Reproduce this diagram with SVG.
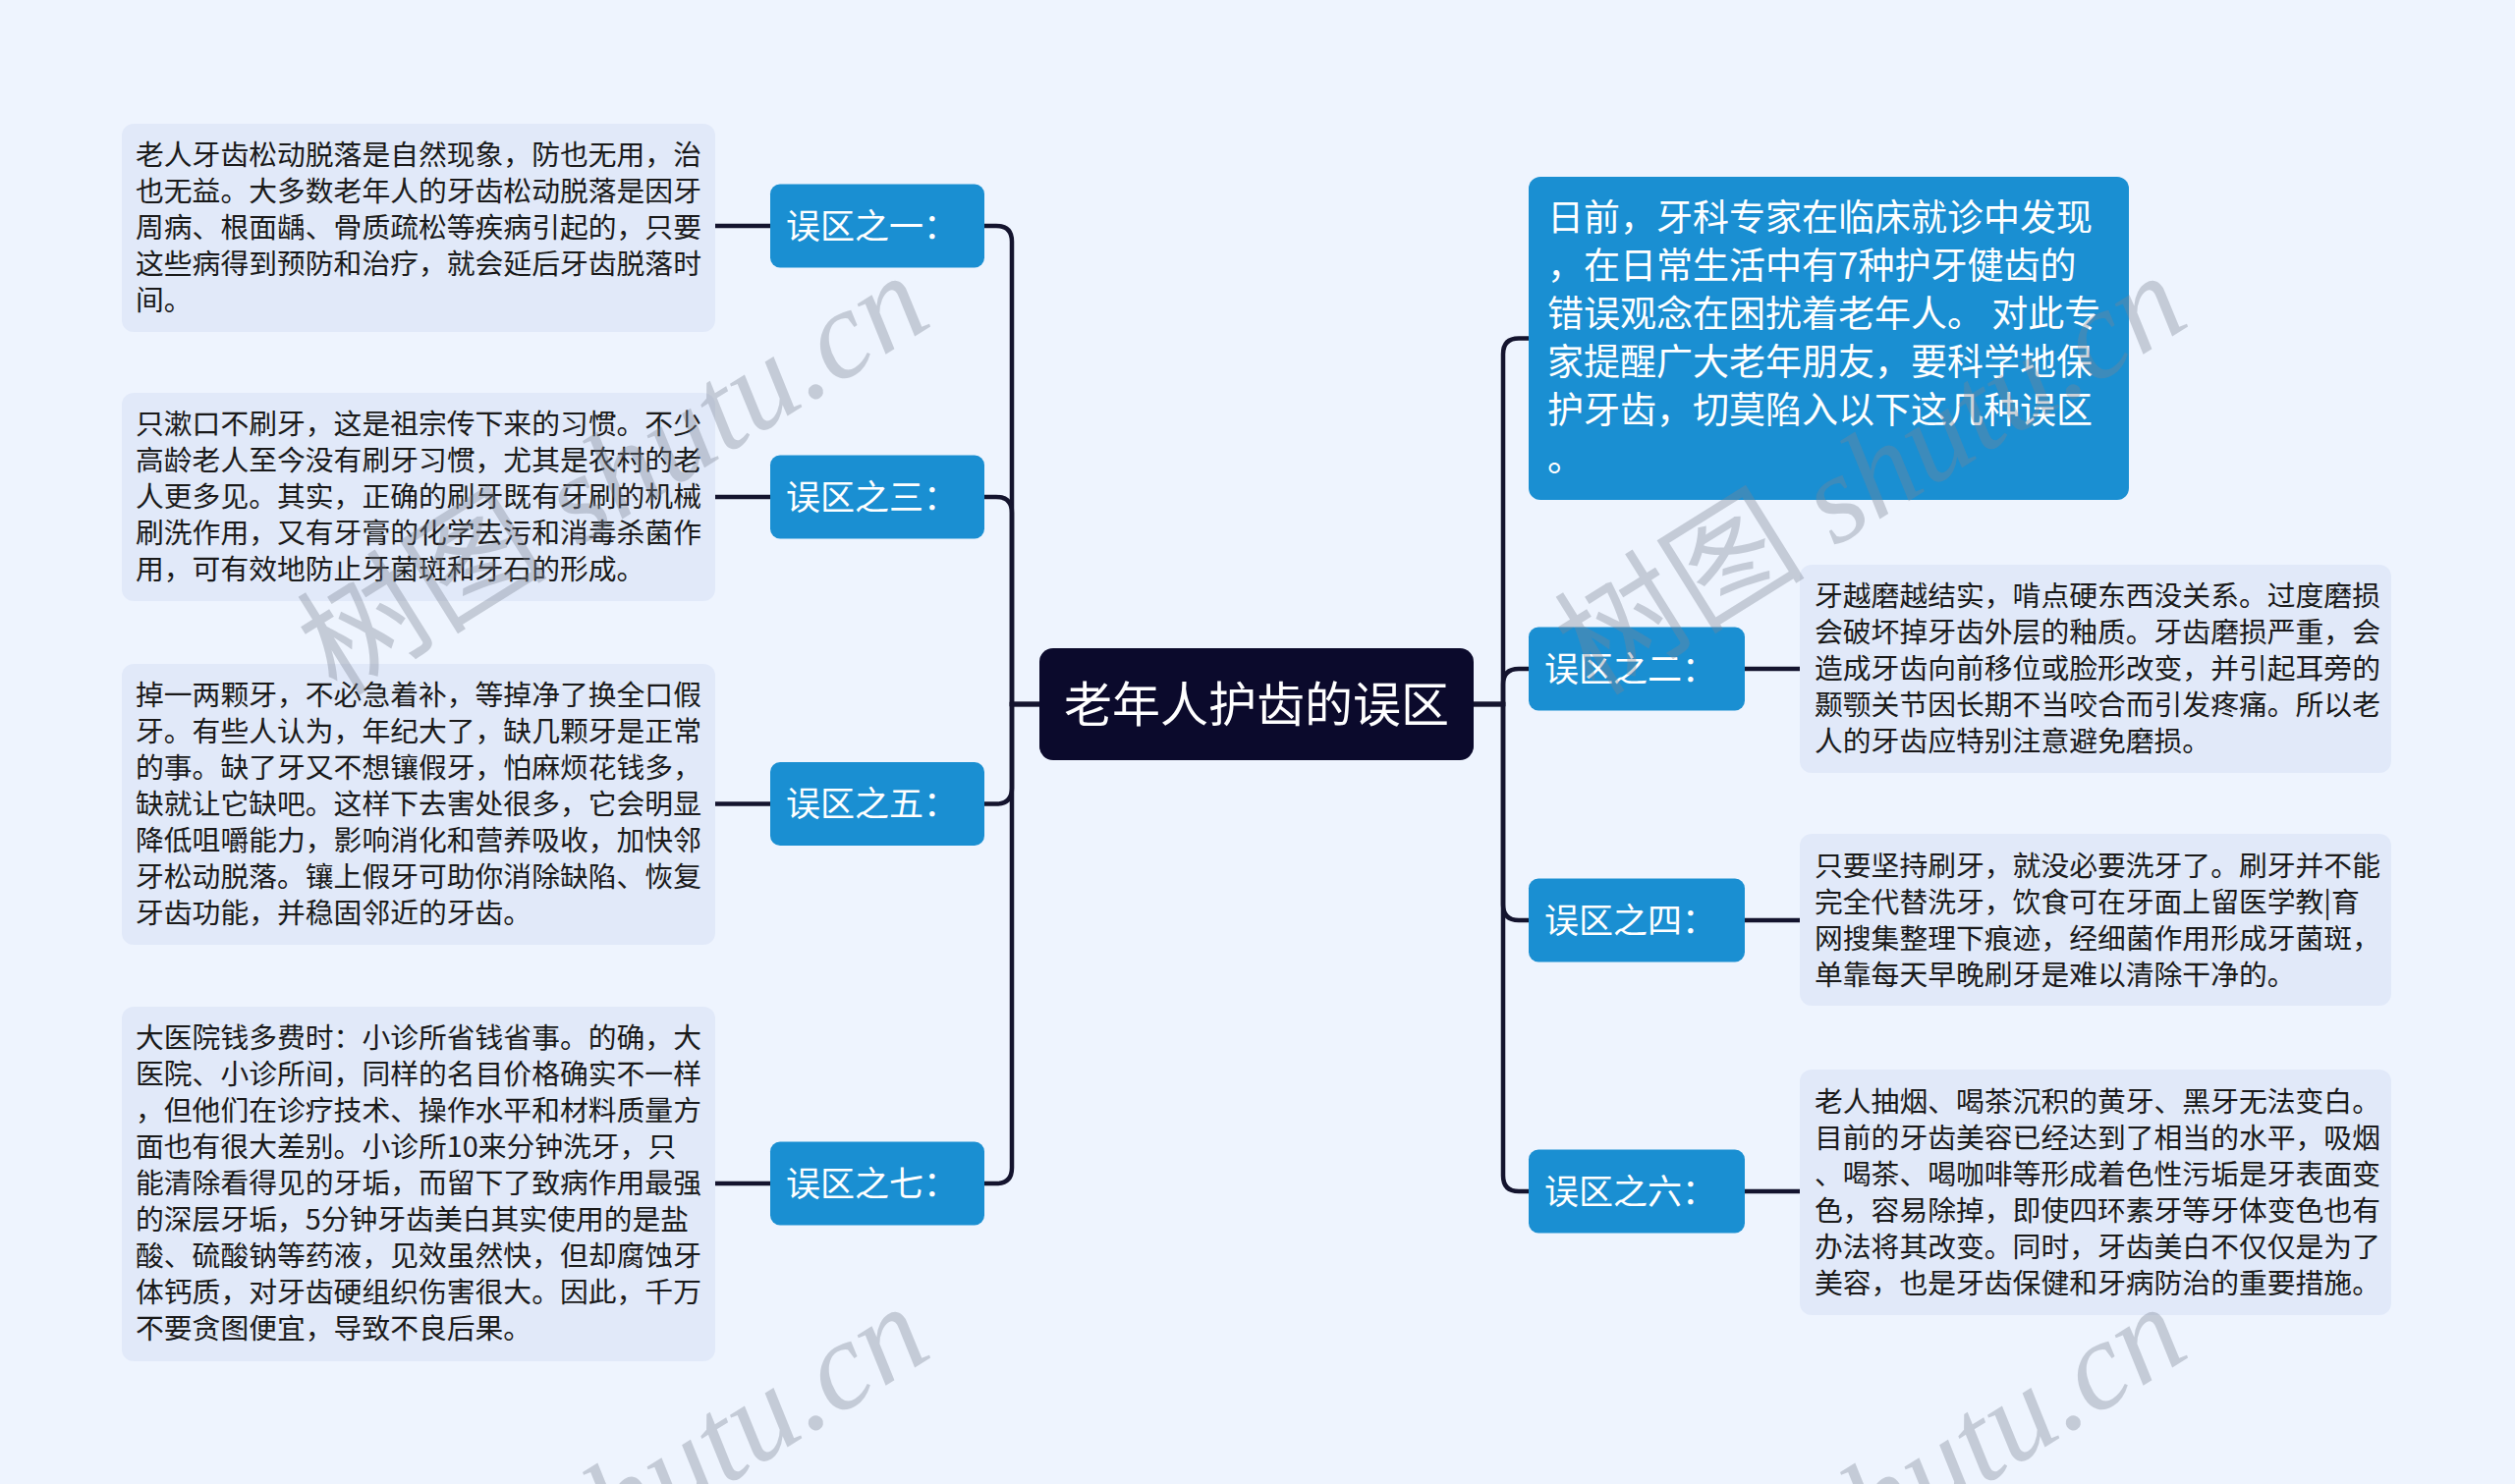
<svg xmlns="http://www.w3.org/2000/svg" width="2560" height="1511" viewBox="0 0 2560 1511">
<style>
.bg{fill:#eef4fe}
.box{fill:#e1e9f9}
.blue{fill:#1a8fd2}
.center{fill:#0b0a2c}
.t{font-family:"Noto Sans CJK SC","Liberation Sans",sans-serif;font-size:28.8px;fill:#1a1a1a}
.bt{font-family:"Noto Sans CJK SC","Liberation Sans",sans-serif;font-size:37px;fill:#ffffff}
.lbl{font-family:"Noto Sans CJK SC","Liberation Sans",sans-serif;font-size:35px;fill:#ffffff}
.ct{font-family:"Noto Sans CJK SC","Liberation Sans",sans-serif;font-size:49px;fill:#ffffff}
.conn{fill:none;stroke:#14142e;stroke-width:4.5}
.wm{font-size:128px;fill:#7d8594;opacity:0.36}
.wmc{font-family:"Noto Sans CJK SC",serif}
.wml{font-family:"Liberation Serif",serif;font-style:italic}
</style>
<rect class="bg" x="0" y="0" width="2560" height="1511"/>

<g id="connectors">
<path class="conn" d="M1058,717 H1030 V246 Q1030,230 1014,230 H1002"/>
<path class="conn" d="M1058,717 H1030 V522 Q1030,506 1014,506 H1002"/>
<path class="conn" d="M1058,717 H1030 V802.5 Q1030,818.5 1014,818.5 H1002"/>
<path class="conn" d="M1058,717 H1030 V1189 Q1030,1205 1014,1205 H1002"/>
<path class="conn" d="M1500,717 H1530 V360.5 Q1530,344.5 1546,344.5 H1556"/>
<path class="conn" d="M1500,717 H1530 V697 Q1530,681 1546,681 H1556"/>
<path class="conn" d="M1500,717 H1530 V921 Q1530,937 1546,937 H1556"/>
<path class="conn" d="M1500,717 H1530 V1197 Q1530,1213 1546,1213 H1556"/>
<path class="conn" d="M784,230 H728"/>
<path class="conn" d="M784,506 H728"/>
<path class="conn" d="M784,818.5 H728"/>
<path class="conn" d="M784,1205 H728"/>
<path class="conn" d="M1776,681 H1832"/>
<path class="conn" d="M1776,937 H1832"/>
<path class="conn" d="M1776,1213 H1832"/>
</g>

<g id="center">
<rect class="center" x="1058" y="660" width="442" height="114" rx="14"/>
<text class="ct" x="1279" y="734.6" text-anchor="middle">老年人护齿的误区</text>
</g>

<g id="intro">
<rect class="blue" x="1556" y="180" width="611" height="329" rx="12"/>
<text class="bt" x="1575" y="235">日前，牙科专家在临床就诊中发现</text>
<text class="bt" x="1575" y="284">，在日常生活中有7种护牙健齿的</text>
<text class="bt" x="1575" y="333">错误观念在困扰着老年人。 对此专</text>
<text class="bt" x="1575" y="382">家提醒广大老年朋友，要科学地保</text>
<text class="bt" x="1575" y="431">护牙齿，切莫陷入以下这几种误区</text>
<text class="bt" x="1575" y="480">。</text>
</g>

<g id="n1">
<rect class="blue" x="784" y="187.5" width="218" height="85" rx="10"/>
<text class="lbl" x="800" y="242.6">误区之一：</text>
</g>
<g id="n1t">
<rect class="box" x="124" y="126" width="604" height="212" rx="12"/>
<text class="t" x="138" y="168.4">老人牙齿松动脱落是自然现象，防也无用，治</text>
<text class="t" x="138" y="205.4">也无益。大多数老年人的牙齿松动脱落是因牙</text>
<text class="t" x="138" y="242.4">周病、根面龋、骨质疏松等疾病引起的，只要</text>
<text class="t" x="138" y="279.4">这些病得到预防和治疗，就会延后牙齿脱落时</text>
<text class="t" x="138" y="316.4">间。</text>
</g>

<g id="n3">
<rect class="blue" x="784" y="463.5" width="218" height="85" rx="10"/>
<text class="lbl" x="800" y="518.6">误区之三：</text>
</g>
<g id="n3t">
<rect class="box" x="124" y="400" width="604" height="212" rx="12"/>
<text class="t" x="138" y="442.4">只漱口不刷牙，这是祖宗传下来的习惯。不少</text>
<text class="t" x="138" y="479.4">高龄老人至今没有刷牙习惯，尤其是农村的老</text>
<text class="t" x="138" y="516.4">人更多见。其实，正确的刷牙既有牙刷的机械</text>
<text class="t" x="138" y="553.4">刷洗作用，又有牙膏的化学去污和消毒杀菌作</text>
<text class="t" x="138" y="590.4">用，可有效地防止牙菌斑和牙石的形成。</text>
</g>

<g id="n5">
<rect class="blue" x="784" y="776" width="218" height="85" rx="10"/>
<text class="lbl" x="800" y="831.1">误区之五：</text>
</g>
<g id="n5t">
<rect class="box" x="124" y="676" width="604" height="286" rx="12"/>
<text class="t" x="138" y="718.4">掉一两颗牙，不必急着补，等掉净了换全口假</text>
<text class="t" x="138" y="755.4">牙。有些人认为，年纪大了，缺几颗牙是正常</text>
<text class="t" x="138" y="792.4">的事。缺了牙又不想镶假牙，怕麻烦花钱多，</text>
<text class="t" x="138" y="829.4">缺就让它缺吧。这样下去害处很多，它会明显</text>
<text class="t" x="138" y="866.4">降低咀嚼能力，影响消化和营养吸收，加快邻</text>
<text class="t" x="138" y="903.4">牙松动脱落。镶上假牙可助你消除缺陷、恢复</text>
<text class="t" x="138" y="940.4">牙齿功能，并稳固邻近的牙齿。</text>
</g>

<g id="n7">
<rect class="blue" x="784" y="1162.5" width="218" height="85" rx="10"/>
<text class="lbl" x="800" y="1217.6">误区之七：</text>
</g>
<g id="n7t">
<rect class="box" x="124" y="1025" width="604" height="361" rx="12"/>
<text class="t" x="138" y="1067.4">大医院钱多费时：小诊所省钱省事。的确，大</text>
<text class="t" x="138" y="1104.4">医院、小诊所间，同样的名目价格确实不一样</text>
<text class="t" x="138" y="1141.4">，但他们在诊疗技术、操作水平和材料质量方</text>
<text class="t" x="138" y="1178.4">面也有很大差别。小诊所10来分钟洗牙，只</text>
<text class="t" x="138" y="1215.4">能清除看得见的牙垢，而留下了致病作用最强</text>
<text class="t" x="138" y="1252.4">的深层牙垢，5分钟牙齿美白其实使用的是盐</text>
<text class="t" x="138" y="1289.4">酸、硫酸钠等药液，见效虽然快，但却腐蚀牙</text>
<text class="t" x="138" y="1326.4">体钙质，对牙齿硬组织伤害很大。因此，千万</text>
<text class="t" x="138" y="1363.4">不要贪图便宜，导致不良后果。</text>
</g>

<g id="n2">
<rect class="blue" x="1556" y="638.5" width="220" height="85" rx="10"/>
<text class="lbl" x="1572" y="693.6">误区之二：</text>
</g>
<g id="n2t">
<rect class="box" x="1832" y="575" width="602" height="212" rx="12"/>
<text class="t" x="1847" y="617.4">牙越磨越结实，啃点硬东西没关系。过度磨损</text>
<text class="t" x="1847" y="654.4">会破坏掉牙齿外层的釉质。牙齿磨损严重，会</text>
<text class="t" x="1847" y="691.4">造成牙齿向前移位或脸形改变，并引起耳旁的</text>
<text class="t" x="1847" y="728.4">颞颚关节因长期不当咬合而引发疼痛。所以老</text>
<text class="t" x="1847" y="765.4">人的牙齿应特别注意避免磨损。</text>
</g>

<g id="n4">
<rect class="blue" x="1556" y="894.5" width="220" height="85" rx="10"/>
<text class="lbl" x="1572" y="949.6">误区之四：</text>
</g>
<g id="n4t">
<rect class="box" x="1832" y="849" width="602" height="175" rx="12"/>
<text class="t" x="1847" y="891.9">只要坚持刷牙，就没必要洗牙了。刷牙并不能</text>
<text class="t" x="1847" y="928.9">完全代替洗牙，饮食可在牙面上留医学教|育</text>
<text class="t" x="1847" y="965.9">网搜集整理下痕迹，经细菌作用形成牙菌斑，</text>
<text class="t" x="1847" y="1002.9">单靠每天早晚刷牙是难以清除干净的。</text>
</g>

<g id="n6">
<rect class="blue" x="1556" y="1170.5" width="220" height="85" rx="10"/>
<text class="lbl" x="1572" y="1225.6">误区之六：</text>
</g>
<g id="n6t">
<rect class="box" x="1832" y="1089" width="602" height="250" rx="12"/>
<text class="t" x="1847" y="1132.4">老人抽烟、喝茶沉积的黄牙、黑牙无法变白。</text>
<text class="t" x="1847" y="1169.4">目前的牙齿美容已经达到了相当的水平，吸烟</text>
<text class="t" x="1847" y="1206.4">、喝茶、喝咖啡等形成着色性污垢是牙表面变</text>
<text class="t" x="1847" y="1243.4">色，容易除掉，即使四环素牙等牙体变色也有</text>
<text class="t" x="1847" y="1280.4">办法将其改变。同时，牙齿美白不仅仅是为了</text>
<text class="t" x="1847" y="1317.4">美容，也是牙齿保健和牙病防治的重要措施。</text>
</g>

<g id="watermark">
<text class="wm" transform="translate(343,710) rotate(-32)"><tspan class="wmc">树图</tspan><tspan class="wml"> shutu.cn</tspan></text>
<text class="wm" transform="translate(1623,710) rotate(-32)"><tspan class="wmc">树图</tspan><tspan class="wml"> shutu.cn</tspan></text>
<text class="wm" transform="translate(343,1760) rotate(-32)"><tspan class="wmc">树图</tspan><tspan class="wml"> shutu.cn</tspan></text>
<text class="wm" transform="translate(1623,1760) rotate(-32)"><tspan class="wmc">树图</tspan><tspan class="wml"> shutu.cn</tspan></text>
</g>
</svg>
